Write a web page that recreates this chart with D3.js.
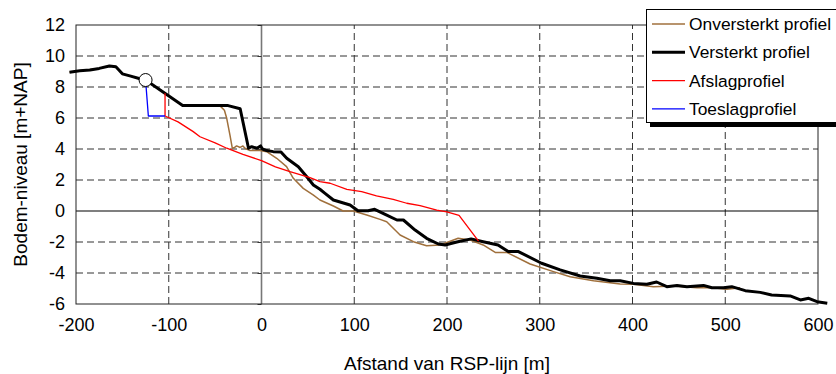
<!DOCTYPE html>
<head>
  <meta charset="utf-8">
  <script src="https://d3js.org/d3.v7.min.js"></script>
  <style>
    body { margin: 0; background: #fff; font-family: "Liberation Sans", Arial, sans-serif; }
    .tick text { font-size: 18px; fill: #000; }
    .grid { stroke: #333; stroke-width: 1; stroke-dasharray: 7,4; }
    .frame { fill: none; stroke: #222; stroke-width: 1; }
    .legend text { font-size: 17.4px; fill: #000; }
  </style>
</head>
<body>
  <div id="vis"></div>
  <script>

    // Afstand [m], bodemniveau [m+NAP]
    var versterkt = [[-207, 8.95], [-196, 9.05], [-185, 9.1], [-175, 9.2], [-164, 9.35], [-157, 9.3],
      [-150, 8.85], [-141, 8.7], [-132, 8.55], [-125, 8.45], [-114, 8.0], [-103, 7.55], [-85, 6.8],
      [-36, 6.8], [-23, 6.6], [-14, 4.05], [-10.6, 4.15], [-5, 4.05], [-1, 4.2], [1, 4.0], [5.6, 3.9],
      [12.7, 3.83], [21, 3.8], [27.2, 3.4], [39.7, 2.86], [48.8, 2.21], [55.9, 1.68], [63, 1.4],
      [68.5, 1.14], [77.5, 0.71], [95.5, 0.39], [104, 0.02], [115, 0.02], [122, 0.11], [135, -0.26],
      [146, -0.58], [153, -0.58], [165.6, -1.23], [178, -1.76], [190.7, -2.13], [198, -2.19],
      [210.6, -2.0], [226, -1.8], [239, -1.98], [255, -2.19], [266, -2.62], [277, -2.62], [302, -3.37],
      [322, -3.8], [343.6, -4.19], [361.6, -4.34], [376, -4.5], [386.7, -4.5], [401, -4.67],
      [415.5, -4.73], [426, -4.58], [437, -4.88], [448, -4.8], [458.7, -4.88], [476.6, -4.8],
      [485.6, -4.95], [498, -4.95], [507, -4.88], [521.6, -5.14], [537.8, -5.25], [550, -5.42],
      [570, -5.48], [581, -5.74], [590, -5.63], [599, -5.85], [610, -5.95]];

    var onversterkt = [[-207, 8.95], [-196, 9.05], [-175, 9.2], [-164, 9.35], [-157, 9.3], [-150, 8.85],
      [-141, 8.7], [-125, 8.45], [-114, 8.0], [-103, 7.55], [-85, 6.8], [-45, 6.8], [-40, 6.5],
      [-37.5, 5.98], [-34, 4.9], [-31.5, 4.05], [-29, 4.1], [-26.8, 4.2], [-23, 4.1], [-20, 4.2],
      [-17.8, 4.05], [-12.4, 3.9], [-1.6, 3.9], [5.6, 3.83], [16.4, 3.4], [27, 2.86], [34.3, 2.11],
      [45, 1.46], [56, 1.03], [63, 0.71], [77.5, 0.32], [88, 0.0], [99, 0.0], [113.5, -0.26],
      [127.8, -0.54], [135, -0.69], [149.4, -1.55], [163.8, -1.98], [178, -2.24], [192.6, -2.19],
      [207, -1.87], [212, -1.76], [225, -1.87], [239, -2.19], [252, -2.67], [264.5, -2.67],
      [289.6, -3.42], [314.8, -3.91], [332.8, -4.24], [358, -4.5], [386.7, -4.71], [401, -4.73],
      [422.6, -4.88], [444, -4.84], [469.5, -4.95], [487, -4.95], [501.8, -5.05], [516, -4.95]];

    var afslag = [[-104, 7.6], [-104, 6.13], [-90, 5.75], [-73.6, 5.12], [-66.3, 4.79], [-50, 4.4],
      [-37.5, 4.05], [-20, 3.65], [0, 3.25], [15, 2.85], [30.7, 2.54], [52.3, 2.15], [63, 1.89],
      [74, 1.79], [92, 1.4], [108, 1.25], [124, 0.97], [142, 0.75], [156.6, 0.5], [171, 0.34],
      [189, 0.06], [199.8, -0.06], [213, -0.28], [234, -1.94]];

    var toeslag = [[-125, 8.45], [-122, 6.13], [-104, 6.13]];

    var grensPunt = [[-125, 8.45]];

    var xTicks = [-200, -100, 0, 100, 200, 300, 400, 500, 600];
    var yTicks = [-6, -4, -2, 0, 2, 4, 6, 8, 10, 12];

    var series = [
      { name: "Onversterkt profiel", data: onversterkt, color: "#a0703c", width: 1.5 },
      { name: "Versterkt profiel", data: versterkt, color: "#000", width: 3 },
      { name: "Afslagprofiel", data: afslag, color: "#ff0000", width: 1.3 },
      { name: "Toeslagprofiel", data: toeslag, color: "#0000ff", width: 1.3 }
    ];

    var W = 836, H = 374;
    var margin = { top: 25, right: 18, bottom: 70, left: 76 },
      width = W - margin.left - margin.right,
      height = H - margin.top - margin.bottom;

    var svg = d3.select("#vis").append("svg")
      .attr("width", W)
      .attr("height", H);

    var x = d3.scaleLinear().domain([-200, 600]).range([margin.left, margin.left + width]);
    var y = d3.scaleLinear().domain([-6, 12]).range([margin.top + height, margin.top]);

    // plain hyphen for negative labels, as in the original
    var fmt = function (d) { return String(d); };

    ////////// grid //////////

    svg.append("g").selectAll("line")
      .data(yTicks.filter(function (d) { return d != 0 && d != -6 && d != 12; }))
      .enter().append("line")
      .attr("class", "grid")
      .attr("x1", x(-200)).attr("x2", x(600))
      .attr("y1", y).attr("y2", y);

    svg.append("g").selectAll("line")
      .data(xTicks.filter(function (d) { return d != 0 && d != -200 && d != 600; }))
      .enter().append("line")
      .attr("class", "grid")
      .attr("y1", y(-6)).attr("y2", y(12))
      .attr("x1", x).attr("x2", x);

    // zero lines
    svg.append("line")
      .attr("x1", x(0)).attr("x2", x(0))
      .attr("y1", y(-6)).attr("y2", y(12))
      .attr("stroke", "#777").attr("stroke-width", 1.6);

    svg.append("line")
      .attr("x1", x(-200)).attr("x2", x(600))
      .attr("y1", y(0)).attr("y2", y(0))
      .attr("stroke", "#000").attr("stroke-width", 1.2);

    // small ticks on the vertical zero line
    svg.append("g")
      .attr("transform", "translate(" + x(0) + ",0)")
      .call(d3.axisLeft(y).tickValues(yTicks).tickSize(4).tickFormat(""))
      .call(function (g) { g.select(".domain").remove(); })
      .selectAll("line").attr("stroke", "#333");

    svg.append("rect")
      .attr("class", "frame")
      .attr("x", x(-200)).attr("y", y(12))
      .attr("width", x(600) - x(-200))
      .attr("height", y(-6) - y(12));

    ////////// axes //////////

    svg.append("g")
      .attr("transform", "translate(0," + y(-6) + ")")
      .call(d3.axisBottom(x).tickValues(xTicks).tickSize(0).tickPadding(14).tickFormat(fmt))
      .call(function (g) { g.select(".domain").remove(); })
      .selectAll("text").attr("font-family", "'Liberation Sans', Arial, sans-serif");

    svg.append("g")
      .attr("transform", "translate(" + (x(-200) - 2) + ",0)")
      .call(d3.axisLeft(y).tickValues(yTicks).tickSize(0).tickPadding(9).tickFormat(fmt))
      .call(function (g) { g.select(".domain").remove(); })
      .selectAll("text").attr("font-family", "'Liberation Sans', Arial, sans-serif");

    svg.append("text")
      .attr("x", (x(-200) + x(600)) / 2)
      .attr("y", 370)
      .attr("text-anchor", "middle")
      .attr("font-size", 19)
      .text("Afstand van RSP-lijn [m]");

    svg.append("text")
      .attr("transform", "translate(27," + ((y(-6) + y(12)) / 2) + ") rotate(-90)")
      .attr("text-anchor", "middle")
      .attr("font-size", 19)
      .text("Bodem-niveau [m+NAP]");

    ////////// lines //////////

    var line = d3.line()
      .x(function (d) { return x(d[0]); })
      .y(function (d) { return y(d[1]); });

    svg.append("g").selectAll("path")
      .data(series)
      .enter().append("path")
      .attr("d", function (d) { return line(d.data); })
      .attr("fill", "none")
      .attr("stroke", function (d) { return d.color; })
      .attr("stroke-width", function (d) { return d.width; })
      .attr("stroke-linejoin", "round");

    svg.append("g").selectAll("circle")
      .data(grensPunt)
      .enter().append("circle")
      .attr("cx", function (d) { return x(d[0]); })
      .attr("cy", function (d) { return y(d[1]); })
      .attr("r", 6.5)
      .attr("fill", "#fff")
      .attr("stroke", "#000")
      .attr("stroke-width", 1);

    ////////// legend //////////

    var legend = svg.append("g").attr("class", "legend");

    legend.append("rect")
      .attr("x", 650).attr("y", 13)
      .attr("width", 200).attr("height", 114)
      .attr("fill", "#000");

    legend.append("rect")
      .attr("x", 646.5).attr("y", 9.5)
      .attr("width", 200).attr("height", 113)
      .attr("fill", "#fff")
      .attr("stroke", "#000");

    var rows = legend.selectAll(".row")
      .data(series)
      .enter().append("g")
      .attr("class", "row")
      .attr("transform", function (d, i) { return "translate(0," + (24 + i * 28.3) + ")"; });

    rows.append("line")
      .attr("x1", 652).attr("x2", 685)
      .attr("stroke", function (d) { return d.color; })
      .attr("stroke-width", function (d) { return d.width; });

    rows.append("text")
      .attr("x", 689)
      .attr("dy", "0.35em")
      .text(function (d) { return d.name; });

  </script>
</body>
